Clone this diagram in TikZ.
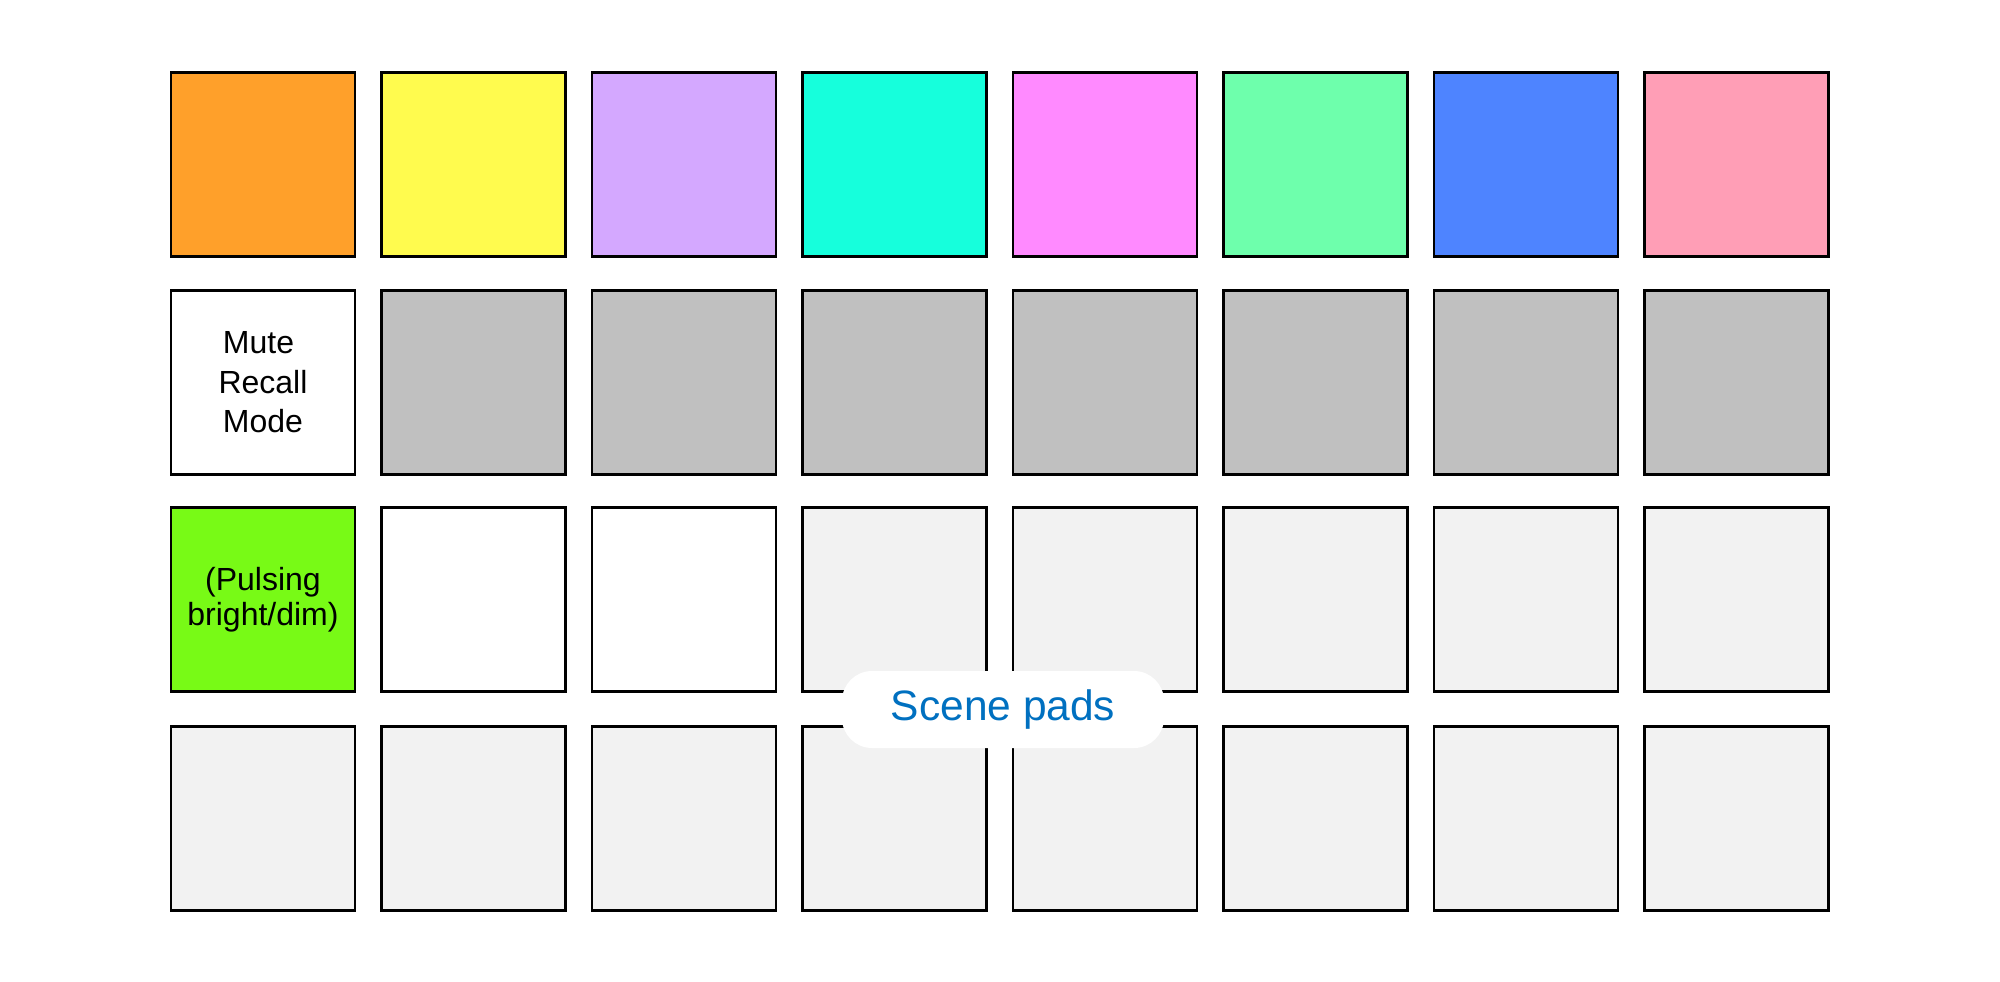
\documentclass[tikz,border=0pt]{standalone}
\usepackage{fontspec}
\setmainfont{Liberation Sans}
\definecolor{cOrange}{RGB}{255,160,42}
\definecolor{cYellow}{RGB}{255,251,78}
\definecolor{cLav}{RGB}{212,168,255}
\definecolor{cCyan}{RGB}{22,255,220}
\definecolor{cMag}{RGB}{255,138,255}
\definecolor{cMint}{RGB}{110,255,172}
\definecolor{cBlue}{RGB}{78,132,255}
\definecolor{cPink}{RGB}{255,158,182}
\definecolor{cGray}{RGB}{192,192,192}
\definecolor{cLight}{RGB}{242,242,242}
\definecolor{cGreen}{RGB}{120,250,22}
\definecolor{cText}{RGB}{0,112,192}
\tikzset{
  pad/.style={draw=black, line width=2.5pt, minimum width=184pt, minimum height=184pt, inner sep=0pt, align=center, font=\fontsize{32}{39.5}\selectfont},
  pill/.style={fill=white, draw=none, rounded corners=30pt, minimum width=322pt, minimum height=77pt, inner sep=0pt, text=cText, font=\fontsize{42.5}{50}\selectfont}
}
\begin{document}
\begin{tikzpicture}[x=1pt,y=-1pt]
\useasboundingbox (0,0) rectangle (2000,982);
\fill[white] (0,0) rectangle (2000,982);
% row 1
\foreach \c [count=\i from 0] in {cOrange,cYellow,cLav,cCyan,cMag,cMint,cBlue,cPink}{
  \node[pad, fill=\c] (r1c\i) at (263+210.5*\i,164.5) {};
}
% row 2
\node[pad, fill=white] (r2c0) at (263,382.5) {Mute\hspace*{0.28em}\\Recall\\Mode};
\foreach \i in {1,...,7}{
  \node[pad, fill=cGray] (r2c\i) at (263+210.5*\i,382.5) {};
}
% row 3
\node[pad, fill=cGreen, font=\fontsize{32}{35.5}\selectfont] (r3c0) at (263,599.5) {(Pulsing\\bright/dim)};
\node[pad, fill=white] (r3c1) at (263+210.5,599.5) {};
\node[pad, fill=white] (r3c2) at (263+421,599.5) {};
\foreach \i in {3,...,7}{
  \node[pad, fill=cLight] (r3c\i) at (263+210.5*\i,599.5) {};
}
% row 4
\foreach \i in {0,...,7}{
  \node[pad, fill=cLight] (r4c\i) at (263+210.5*\i,818.5) {};
}
% label
\node[pill] (scene) at (1003,709.5) {Scene pads};
\end{tikzpicture}
\end{document}
